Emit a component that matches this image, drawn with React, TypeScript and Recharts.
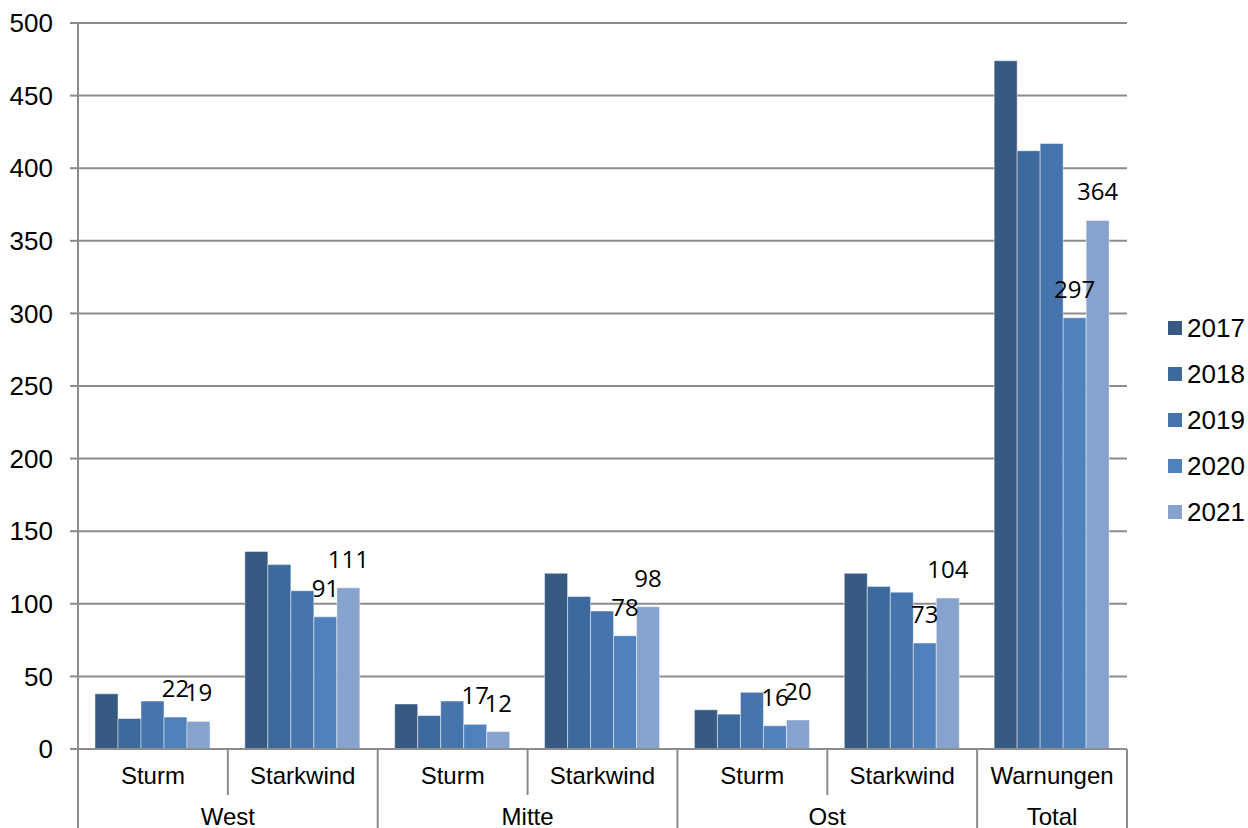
import React from 'react';
import { BarChart, Bar, XAxis, YAxis, CartesianGrid, LabelList } from 'recharts';

const subCategories = ['Sturm', 'Starkwind', 'Sturm', 'Starkwind', 'Sturm', 'Starkwind', 'Warnungen'];
const regions = ['West', 'West', 'Mitte', 'Mitte', 'Ost', 'Ost', 'Total'];
const years = ['2017', '2018', '2019', '2020', '2021'];

const values2017 = [38, 136, 31, 121, 27, 121, 474];
const values2018 = [21, 127, 23, 105, 24, 112, 412];
const values2019 = [33, 109, 33, 95, 39, 108, 417];
const values2020 = [22, 91, 17, 78, 16, 73, 297];
const values2021 = [19, 111, 12, 98, 20, 104, 364];

const yTicks = [0, 50, 100, 150, 200, 250, 300, 350, 400, 450, 500];

const seriesValues = [values2017, values2018, values2019, values2020, values2021];
const seriesColors = ['#375a83', '#3e699d', '#4674ad', '#4f81bd', '#87a2cc'];
// only the last two years carry value labels
const labelledYears = ['2020', '2021'];

const data = subCategories.map((sub, i) => {
  const row: Record<string, string | number> = { id: `${regions[i]}-${sub}-${i}` };
  years.forEach((y, s) => {
    row[y] = seriesValues[s][i];
  });
  return row;
});

const AXIS_FONT = '"Liberation Sans", Arial, sans-serif';
const LABEL_FONT = '"Open Sans", "Noto Sans", sans-serif';
const LINE = '#8c8c8c';

const SUB_ROW = 46;
const FULL_ROW = 79;

const CategoryTick = (props: any) => {
  const { x, y, payload, index } = props;
  const half = payload.offset;
  const band = half * 2;
  const left = x - half;
  const right = x + half;
  const groupStart = index === 0 || regions[index - 1] !== regions[index];
  const isLast = index === subCategories.length - 1;

  let groupLabel = null;
  if (groupStart) {
    let span = 1;
    while (regions[index + span] === regions[index]) span++;
    const cx = left + (span * band) / 2;
    groupLabel = (
      <text x={cx} y={y + 76} textAnchor="middle" fontFamily={AXIS_FONT} fontSize={24} fill="#000">
        {regions[index]}
      </text>
    );
  }

  return (
    <g>
      <line x1={left} x2={left} y1={y} y2={y + (groupStart ? FULL_ROW : SUB_ROW)} stroke={LINE} strokeWidth={2} />
      {isLast && <line x1={right} x2={right} y1={y} y2={y + FULL_ROW} stroke={LINE} strokeWidth={2} />}
      <text x={x} y={y + 35} textAnchor="middle" fontFamily={AXIS_FONT} fontSize={24} fill="#000">
        {subCategories[index]}
      </text>
      {groupLabel}
    </g>
  );
};

const Legend = () => (
  <div style={{ position: 'absolute', left: 1168, top: 305, fontFamily: AXIS_FONT, fontSize: 26, color: '#000' }}>
    {years.map((y, i) => (
      <div key={y} style={{ display: 'flex', alignItems: 'center', height: 46 }}>
        <span style={{ width: 14, height: 14, background: seriesColors[i], marginRight: 5, display: 'inline-block' }} />
        <span>{y}</span>
      </div>
    ))}
  </div>
);

export default function App() {
  return (
    <div style={{ position: 'absolute', left: 0, top: 0, width: 1248, height: 828, background: '#fff' }}>
      <BarChart
        width={1248}
        height={828}
        data={data}
        margin={{ top: 23, right: 121, left: 0, bottom: 0 }}
        barCategoryGap={17}
        barGap={0}
      >
        <CartesianGrid vertical={false} stroke={LINE} strokeWidth={2} />
        <XAxis
          dataKey="id"
          interval={0}
          height={FULL_ROW}
          tickSize={0}
          tickMargin={0}
          tickLine={false}
          axisLine={{ stroke: LINE, strokeWidth: 2 }}
          tick={<CategoryTick />}
        />
        <YAxis
          width={78}
          domain={[0, 500]}
          ticks={yTicks}
          interval={0}
          tickSize={8}
          tickMargin={17}
          tickLine={{ stroke: LINE, strokeWidth: 2 }}
          axisLine={{ stroke: LINE, strokeWidth: 2 }}
          tick={{ fill: '#000', fontFamily: AXIS_FONT, fontSize: 26 }}
        />
        {years.map((y, i) => (
          <Bar
            key={y}
            dataKey={y}
            fill={seriesColors[i]}
            stroke="rgba(255,255,255,0.45)"
            strokeWidth={1}
            isAnimationActive={false}
          >
            {labelledYears.includes(y) && (
              <LabelList
                dataKey={y}
                position="top"
                offset={20}
                fill="#000"
                fontFamily={LABEL_FONT}
                fontSize={24}
              />
            )}
          </Bar>
        ))}
      </BarChart>
      <Legend />
    </div>
  );
}
